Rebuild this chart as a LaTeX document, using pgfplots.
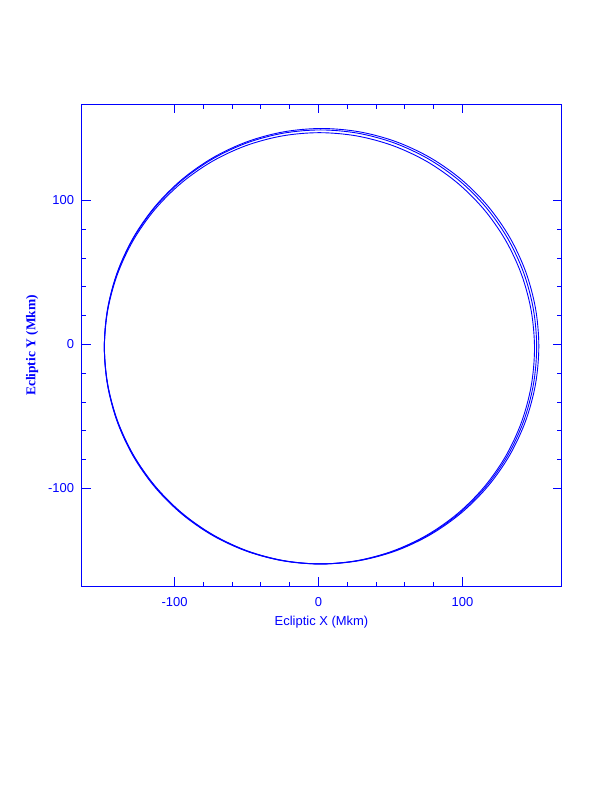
\documentclass[border=0pt]{standalone}
\usepackage{pgfplots}
\pgfplotsset{compat=1.18}
\usepackage{fontspec}
\setmainfont{Liberation Sans}
\newfontfamily\serifb{Liberation Serif}
\definecolor{pblue}{RGB}{0,0,255}
\begin{document}
\begin{tikzpicture}
\path[use as bounding box] (-81.5bp,-205.5bp) rectangle (530.5bp,586.5bp);
\begin{axis}[
  at={(0,0)}, anchor=south west,
  scale only axis, width=480bp, height=482bp,
  xmin=-164.58, xmax=168.75, ymin=-168.06, ymax=166.67,
  axis line style={draw=pblue, line width=1bp},
  every tick/.style={draw=pblue, line width=1bp},
  tick align=inside,
  major tick length=9bp, minor tick length=4.5bp,
  xtick={-100,0,100}, ytick={-100,0,100},
  minor tick num=4,
  /pgf/number format/assume math mode=true,
  tick label style={font=\fontsize{13}{15}\selectfont, text=pblue},
  xticklabel style={yshift=-7bp},
  yticklabel style={xshift=-4bp},
  xlabel={Ecliptic X (Mkm)},
  ylabel={\serifb\bfseries Ecliptic Y (Mkm)},
  xlabel style={font=\fontsize{13}{15}\selectfont, text=pblue, yshift=-3bp},
  ylabel style={font=\fontsize{13.5}{15}\selectfont, text=pblue, yshift=3bp},
]
\addplot[pblue, line width=0.9bp, smooth cycle, tension=0.55] coordinates {
(150.0,-2.65) (147.73,23.35) (140.99,48.57) (129.99,72.23) (115.06,93.61) (96.65,112.06) (75.33,127.04) (51.73,138.07) (26.58,144.83) (0.65,147.1)
(-25.28,144.83) (-50.43,138.07) (-74.03,127.04) (-95.35,112.06) (-113.76,93.61) (-128.69,72.23) (-139.69,48.57) (-146.43,23.35) (-148.7,-2.65)
(-146.43,-28.65) (-139.69,-53.87) (-128.69,-77.53) (-113.76,-98.91) (-95.35,-117.36) (-74.03,-132.34) (-50.43,-143.37) (-25.28,-150.13) (0.65,-152.4)
(26.58,-150.13) (51.73,-143.37) (75.33,-132.34) (96.65,-117.36) (115.06,-98.91) (129.99,-77.53) (140.99,-53.87) (147.73,-28.65)
};
\addplot[pblue, line width=0.9bp, smooth cycle, tension=0.55] coordinates {
(151.5,-1.7) (149.22,24.47) (142.45,49.84) (131.39,73.65) (116.38,95.17) (97.88,113.74) (76.45,128.81) (52.74,139.91) (27.46,146.71) (1.4,149.0)
(-24.66,146.71) (-49.94,139.91) (-73.65,128.81) (-95.08,113.74) (-113.58,95.17) (-128.59,73.65) (-139.65,49.84) (-146.42,24.47) (-148.7,-1.7)
(-146.42,-27.87) (-139.65,-53.24) (-128.59,-77.05) (-113.58,-98.57) (-95.08,-117.14) (-73.65,-132.21) (-49.94,-143.31) (-24.66,-150.11) (1.4,-152.4)
(27.46,-150.11) (52.74,-143.31) (76.45,-132.21) (97.88,-117.14) (116.38,-98.57) (131.39,-77.05) (142.45,-53.24) (149.22,-27.87)
};
\addplot[pblue, line width=0.9bp, smooth cycle, tension=0.55] coordinates {
(153.0,-1.2) (150.71,25.06) (143.90,50.51) (132.79,74.4) (117.71,95.99) (99.12,114.63) (77.58,129.74) (53.74,140.88) (28.35,147.70) (2.15,150.0)
(-24.05,147.70) (-49.44,140.88) (-73.28,129.74) (-94.82,114.63) (-113.41,95.99) (-128.49,74.4) (-139.60,50.51) (-146.41,25.06) (-148.7,-1.2)
(-146.41,-27.46) (-139.60,-52.91) (-128.49,-76.8) (-113.41,-98.39) (-94.82,-117.03) (-73.28,-132.14) (-49.44,-143.31) (-24.05,-150.10) (2.15,-152.4)
(28.35,-150.10) (53.74,-143.31) (77.58,-132.14) (99.12,-117.03) (117.71,-98.39) (132.79,-76.8) (143.90,-52.91) (150.71,-27.46)
};
\end{axis}
\end{tikzpicture}
\end{document}
